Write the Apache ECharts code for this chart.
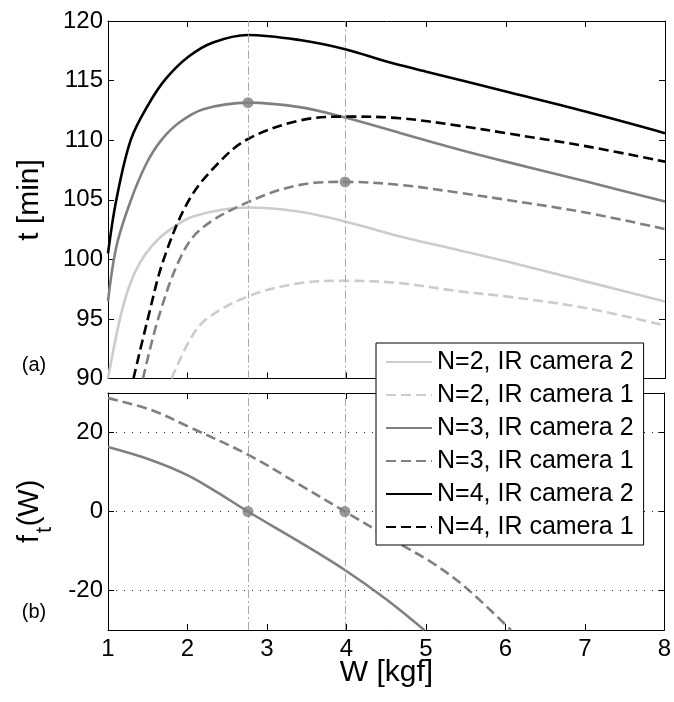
<!DOCTYPE html>
<html>
<head>
<meta charset="utf-8">
<script src="https://cdn.jsdelivr.net/npm/echarts@6/dist/echarts.min.js"></script>
<style>
  html, body { margin: 0; padding: 0; background: #fff; }
  #chart { width: 674px; height: 702px; }
</style>
</head>
<body>
<div id="chart"></div>
<script>
// ---- data: endurance t(W) [min] for each configuration ----
const n2cam2 = [[1,90.0],[1.15,95],[1.27,97.8],[1.40,99.7],[1.55,101.1],[1.74,102.3],[2.07,103.6],[2.76,104.35],[3.41,104.0],[3.98,103.18],[4.67,101.92],[5.42,100.75],[6,99.83],[7,98.15],[8,96.47]];
const n2cam1 = [[1.80,90],[2.03,93.26],[2.24,95],[2.76,96.89],[3.41,98.0],[3.98,98.2],[4.67,98.0],[5.42,97.31],[6,96.89],[7,95.92],[8,94.44]];
const n3cam2 = [[1,96.5],[1.11,101.2],[1.29,105],[1.48,108.0],[1.67,110],[1.90,111.5],[2.20,112.6],[2.76,113.15],[3.41,112.77],[3.98,111.9],[4.67,110.6],[5.42,109.2],[6,108.2],[7,106.55],[8,104.85]];
const n3cam1 = [[1.44,90],[1.63,95],[1.90,100],[2.16,102.5],[2.76,104.8],[3.41,106.25],[3.98,106.5],[4.67,106.25],[5.42,105.58],[6,105.0],[7,103.93],[8,102.54]];
const n4cam2 = [[1,100.5],[1.105,105],[1.285,110],[1.50,112.9],[1.72,115.1],[2.01,117.0],[2.32,118.2],[2.76,118.83],[3.41,118.4],[3.98,117.63],[4.5,116.6],[5,115.75],[6,114.08],[7,112.4],[8,110.59]];
const n4cam1 = [[1.32,90],[1.50,95],[1.70,100],[2.02,105],[2.39,108.1],[2.76,110.1],[3.41,111.65],[3.98,111.98],[4.67,111.84],[5.42,111.2],[6,110.59],[7,109.5],[8,108.2]];

// ---- data: derivative f_t(W) for N=3 ----
const ft3cam2 = [[1,16.3],[1.53,13.1],[2.01,9.1],[2.37,4.9],[2.76,0],[3.41,-7.7],[3.98,-14.8],[4.5,-22.2],[4.98,-30]];
const ft3cam1 = [[1,28.7],[1.53,25.8],[2.01,21.5],[2.76,14.4],[3.41,6.8],[3.98,0],[4.67,-8.2],[5.09,-13.1],[5.51,-19.4],[6.07,-30]];

// optimum weights and the corresponding maxima
const optW = [2.76, 3.98];
const peaks = [[2.76,113.15],[3.98,106.5]];
const zeros = [[2.76,0],[3.98,0]];
const ftGrid = [-20, 0, 20];

const xTicks = [1,2,3,4,5,6,7,8];
const names = ['N=2, IR camera 2','N=2, IR camera 1','N=3, IR camera 2','N=3, IR camera 1','N=4, IR camera 2','N=4, IR camera 1'];

const FONT = 'Liberation Sans, Arial, Helvetica, sans-serif';
const BLACK = '#000000', GRAY = '#808080', LIGHT = '#cccccc';
const DASH = [10, 5];
const LW = 2.6;

const chart = echarts.init(document.getElementById('chart'), null, { renderer: 'canvas' });

const vLine = {
  silent: true, symbol: 'none', label: { show: false },
  lineStyle: { color: '#a8a8a8', width: 1, type: [8, 3, 2, 3] },
  data: optW.map(w => ({ xAxis: w }))
};

function curve(name, data, color, dashed, xi, yi, extra) {
  return Object.assign({
    name, type: 'line', data, xAxisIndex: xi, yAxisIndex: yi,
    smooth: 0.35, symbol: 'none', showSymbol: false, clip: true,
    lineStyle: { color, width: LW, type: dashed ? DASH : 'solid' },
    itemStyle: { color }, z: 3
  }, extra || {});
}

const hiddenX = (gi, pos) => ({
  type: 'value', gridIndex: gi, position: pos, min: 1, max: 8, interval: 1,
  axisLine: { show: true, onZero: false, lineStyle: { color: BLACK, width: 1 } },
  axisTick: { show: true, inside: true, length: 6, lineStyle: { color: BLACK } },
  axisLabel: { show: false }, splitLine: { show: false }
});

const option = {
  backgroundColor: '#fff',
  animation: false,
  grid: [
    { left: 108, right: 9, top: 21, height: 357.5 },
    { left: 108, right: 9, top: 393, height: 237 }
  ],
  xAxis: [
    hiddenX(0, 'bottom'),
    hiddenX(0, 'top'),
    Object.assign(hiddenX(1, 'bottom'), {
      axisLabel: { show: true, margin: 7, fontSize: 24, color: BLACK, fontFamily: FONT,
        formatter: v => (xTicks.indexOf(v) >= 0 ? String(v) : '') }
    }),
    hiddenX(1, 'top')
  ],
  yAxis: [
    { type: 'value', gridIndex: 0, position: 'left', min: 90, max: 120, interval: 5,
      axisLine: { show: true, onZero: false, lineStyle: { color: BLACK } },
      axisTick: { show: true, inside: true, length: 6, lineStyle: { color: BLACK } },
      axisLabel: { margin: 5, fontSize: 24, color: BLACK, fontFamily: FONT },
      splitLine: { show: false } },
    { type: 'value', gridIndex: 0, position: 'right', min: 90, max: 120, interval: 5,
      axisLine: { show: true, onZero: false, lineStyle: { color: BLACK } },
      axisTick: { show: true, inside: true, length: 6, lineStyle: { color: BLACK } },
      axisLabel: { show: false }, splitLine: { show: false } },
    { type: 'value', gridIndex: 1, position: 'left', min: -30, max: 30, interval: 10,
      axisLine: { show: true, onZero: false, lineStyle: { color: BLACK } },
      axisTick: { show: true, inside: true, length: 6, customValues: ftGrid, lineStyle: { color: BLACK } },
      axisLabel: { margin: 5, fontSize: 24, color: BLACK, fontFamily: FONT, customValues: ftGrid },
      splitLine: { show: false } },
    { type: 'value', gridIndex: 1, position: 'right', min: -30, max: 30, interval: 10,
      axisLine: { show: true, onZero: false, lineStyle: { color: BLACK } },
      axisTick: { show: true, inside: true, length: 6, customValues: ftGrid, lineStyle: { color: BLACK } },
      axisLabel: { show: false }, splitLine: { show: false } }
  ],
  legend: {
    data: names,
    orient: 'vertical',
    left: 376, top: 343,
    backgroundColor: '#fff', borderColor: BLACK, borderWidth: 1, borderRadius: 0,
    padding: [6, 10, 5, 9],
    itemWidth: 46, itemHeight: 14, itemGap: 7,
    itemStyle: { opacity: 0, borderWidth: 0 },
    textStyle: { fontSize: 25, lineHeight: 26, color: BLACK, fontFamily: FONT },
    selectedMode: false, z: 10
  },
  graphic: [
    { type: 'text', x: 30, y: 200, rotation: Math.PI / 2,
      style: { text: 't [min]', font: '30px ' + FONT, fill: BLACK, align: 'center', verticalAlign: 'middle' } },
    { type: 'text', x: 30, y: 539, rotation: Math.PI / 2,
      style: { text: 'f', font: '29px ' + FONT, fill: BLACK, align: 'center', verticalAlign: 'middle' } },
    { type: 'text', x: 45, y: 530, rotation: Math.PI / 2,
      style: { text: 't', font: '22px ' + FONT, fill: BLACK, align: 'center', verticalAlign: 'middle' } },
    { type: 'text', x: 30, y: 503, rotation: Math.PI / 2,
      style: { text: '(W)', font: '29px ' + FONT, fill: BLACK, align: 'center', verticalAlign: 'middle' } },
    { type: 'text', x: 386.5, y: 673,
      style: { text: 'W [kgf]', font: '30px ' + FONT, fill: BLACK, align: 'center', verticalAlign: 'middle' } },
    { type: 'text', x: 34, y: 365,
      style: { text: '(a)', font: '20px ' + FONT, fill: BLACK, align: 'center', verticalAlign: 'middle' } },
    { type: 'text', x: 34, y: 612,
      style: { text: '(b)', font: '20px ' + FONT, fill: BLACK, align: 'center', verticalAlign: 'middle' } }
  ],
  series: [
    curve(names[0], n2cam2, LIGHT, false, 0, 0, { markLine: vLine }),
    curve(names[1], n2cam1, LIGHT, true, 0, 0),
    curve(names[2], n3cam2, GRAY, false, 0, 0),
    curve(names[3], n3cam1, GRAY, true, 0, 0),
    curve(names[4], n4cam2, BLACK, false, 0, 0),
    curve(names[5], n4cam1, BLACK, true, 0, 0),
    { name: 'peaks', type: 'scatter', xAxisIndex: 0, yAxisIndex: 0, data: peaks,
      symbol: 'circle', symbolSize: 11, itemStyle: { color: GRAY }, z: 5 },
    curve('ft N=3 cam2', ft3cam2, GRAY, false, 2, 2, {
      markLine: Object.assign({}, vLine, {
        data: optW.map(w => ({ xAxis: w })).concat(ftGrid.map(v => ({ yAxis: v, lineStyle: { color: '#222', width: 1, type: [1, 7] } })))
      })
    }),
    curve('ft N=3 cam1', ft3cam1, GRAY, true, 2, 2),
    { name: 'zeros', type: 'scatter', xAxisIndex: 2, yAxisIndex: 2, data: zeros,
      symbol: 'circle', symbolSize: 11, itemStyle: { color: GRAY }, z: 5 }
  ]
};

chart.setOption(option);
</script>
</body>
</html>
